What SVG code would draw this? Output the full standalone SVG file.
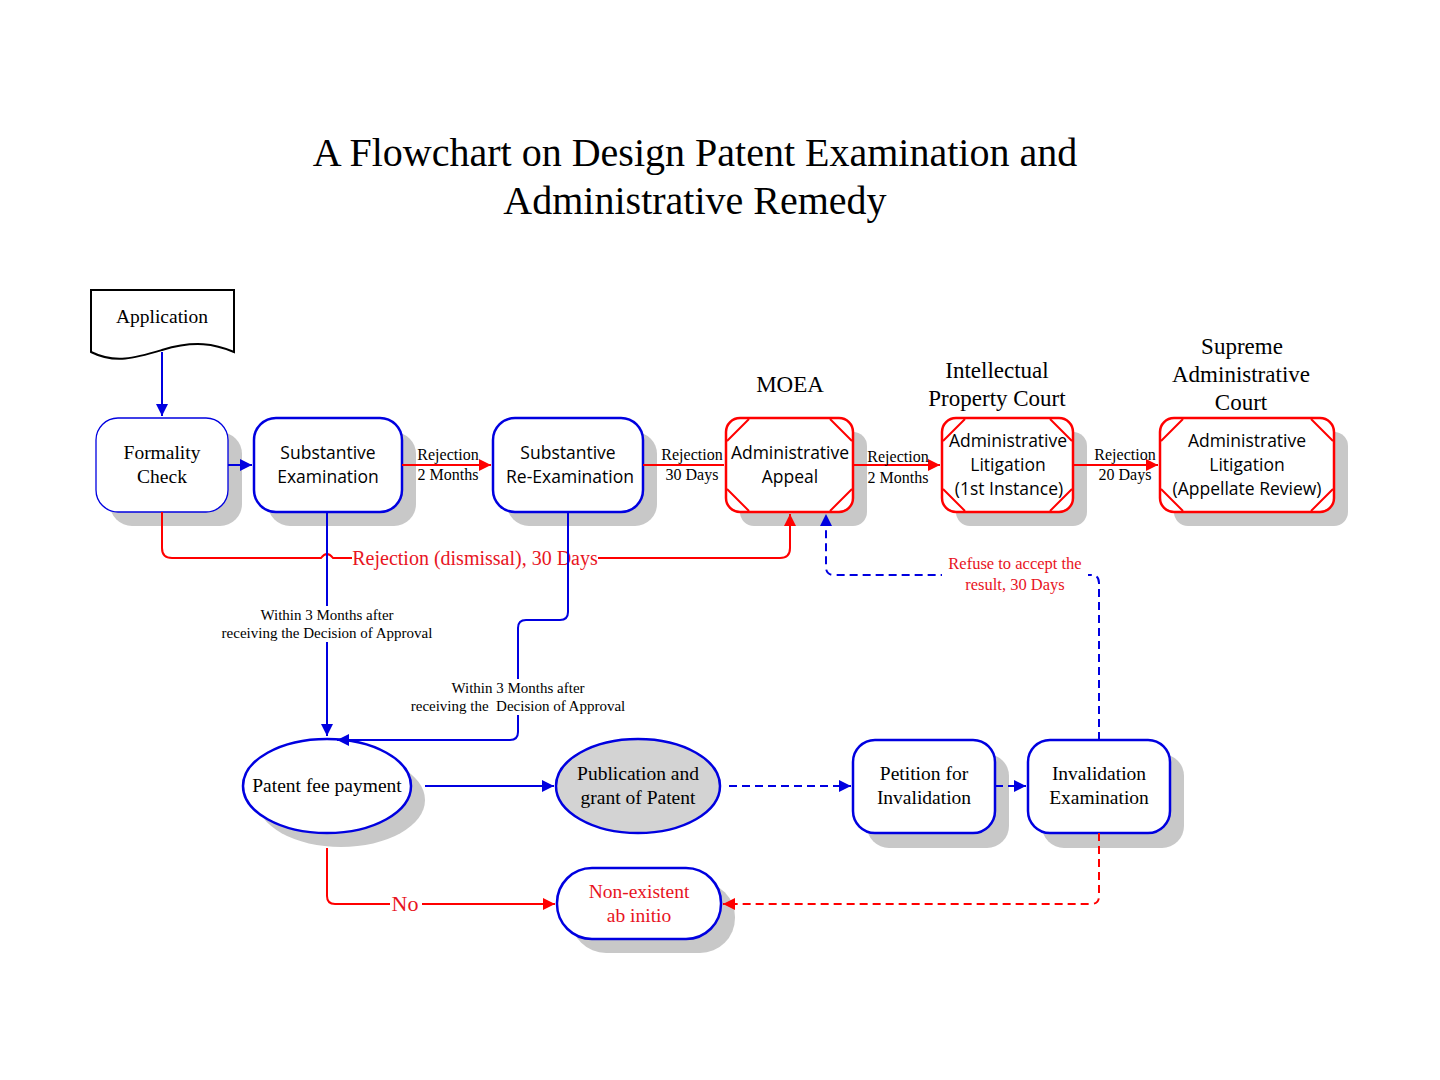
<svg xmlns="http://www.w3.org/2000/svg" width="1440" height="1080" viewBox="0 0 1440 1080">
<style>
.serif{font-family:"Liberation Serif","Times New Roman",serif;}
.sans{font-family:"Open Sans","Noto Sans",sans-serif;font-size:17.5px;fill:#000;}
.t19{font-size:19.5px;fill:#000;}
.t16{font-size:16px;fill:#000;}
.t15{font-size:15px;fill:#000;}
.red{fill:#e8141e;}
.shadow{fill:#c8c8c8;}
.bbox{fill:#fff;stroke:#0000e0;stroke-width:2.5;}
.rbox{fill:#fff;stroke:#ff0000;stroke-width:2.5;}
.bl{stroke:#0000e0;stroke-width:2;fill:none;}
.rl{stroke:#ff0000;stroke-width:2;fill:none;}
.dash{stroke-dasharray:8,5;}
</style>
<defs>
<marker id="ab" viewBox="0 0 10 10" refX="10" refY="5" markerWidth="6" markerHeight="6" orient="auto" markerUnits="strokeWidth"><path d="M0,0 L10,5 L0,10 z" fill="#0000e0"/></marker>
<marker id="ar" viewBox="0 0 10 10" refX="10" refY="5" markerWidth="6" markerHeight="6" orient="auto" markerUnits="strokeWidth"><path d="M0,0 L10,5 L0,10 z" fill="#ff0000"/></marker>
</defs>
<rect width="1440" height="1080" fill="#fff"/>
<g id="title" class="serif" font-size="40" text-anchor="middle" fill="#000">
<text x="695" y="166">A Flowchart on Design Patent Examination and</text>
<text x="695" y="214">Administrative Remedy</text>
</g>
<g id="headings" class="serif" font-size="23" text-anchor="middle" fill="#000">
<text x="790" y="392">MOEA</text>
<text x="997" y="378">Intellectual</text>
<text x="997" y="406">Property Court</text>
<text x="1242" y="354">Supreme</text>
<text x="1241" y="382">Administrative</text>
<text x="1241" y="410">Court</text>
</g>
<g id="application">
<path d="M91,290 H234 V352 C215,344 195,340 162,350 C135,358 115,364 91,352 Z" fill="#fff" stroke="#000" stroke-width="2"/>
<text class="serif t19" x="162" y="323" text-anchor="middle">Application</text>
</g>
<g id="formality-check">
<rect class="shadow" x="110" y="432" width="132" height="94" rx="22"/>
<rect x="96" y="418" width="132" height="94" rx="22" fill="#fff" stroke="#0000e0" stroke-width="1.3"/>
<text class="serif t19" x="162" y="459" text-anchor="middle">Formality</text>
<text class="serif t19" x="162" y="483" text-anchor="middle">Check</text>
</g>
<g id="substantive-examination">
<rect class="shadow" x="268" y="432" width="148" height="94" rx="22"/>
<rect class="bbox" x="254" y="418" width="148" height="94" rx="22"/>
<text class="sans" x="328" y="459" text-anchor="middle">Substantive</text>
<text class="sans" x="328" y="483" text-anchor="middle">Examination</text>
</g>
<g id="substantive-re-examination">
<rect class="shadow" x="507" y="432" width="150" height="94" rx="22"/>
<rect class="bbox" x="493" y="418" width="150" height="94" rx="22"/>
<text class="sans" x="568" y="459" text-anchor="middle">Substantive</text>
<text class="sans" x="570" y="483" text-anchor="middle">Re-Examination</text>
</g>
<g id="administrative-appeal">
<rect class="shadow" x="740" y="432" width="127" height="94" rx="14"/>
<rect class="rbox" x="726" y="418" width="127" height="94" rx="14"/>
<path class="rl" d="M727,441 L749,419 M830,419 L852,441 M727,489 L749,511 M830,511 L852,489"/>
<text class="sans" x="790" y="459" text-anchor="middle">Administrative</text>
<text class="sans" x="790" y="483" text-anchor="middle">Appeal</text>
</g>
<g id="administrative-litigation-1st">
<rect class="shadow" x="956" y="432" width="131" height="94" rx="14"/>
<rect class="rbox" x="942" y="418" width="131" height="94" rx="14"/>
<path class="rl" d="M943,441 L965,419 M1050,419 L1072,441 M943,489 L965,511 M1050,511 L1072,489"/>
<text class="sans" x="1008" y="447" text-anchor="middle">Administrative</text>
<text class="sans" x="1008" y="471" text-anchor="middle">Litigation</text>
<text class="sans" x="1009" y="495" text-anchor="middle">(1st Instance)</text>
</g>
<g id="administrative-litigation-appellate">
<rect class="shadow" x="1174" y="432" width="174" height="94" rx="14"/>
<rect class="rbox" x="1160" y="418" width="174" height="94" rx="14"/>
<path class="rl" d="M1161,441 L1183,419 M1311,419 L1333,441 M1161,489 L1183,511 M1311,511 L1333,489"/>
<text class="sans" x="1247" y="447" text-anchor="middle">Administrative</text>
<text class="sans" x="1247" y="471" text-anchor="middle">Litigation</text>
<text class="sans" x="1247" y="495" text-anchor="middle">(Appellate Review)</text>
</g>
<g id="patent-fee-payment">
<ellipse class="shadow" cx="341" cy="800" rx="84" ry="47"/>
<ellipse class="bbox" cx="327" cy="786" rx="84" ry="47"/>
<text class="serif t19" x="327" y="792" text-anchor="middle">Patent fee payment</text>
</g>
<g id="publication">
<ellipse cx="638" cy="786" rx="82" ry="47" fill="#d3d3d3" stroke="#0000e0" stroke-width="2.5"/>
<text class="serif t19" x="638" y="780" text-anchor="middle">Publication and</text>
<text class="serif t19" x="638" y="804" text-anchor="middle">grant of Patent</text>
</g>
<g id="petition-for-invalidation">
<rect class="shadow" x="867" y="754" width="142" height="94" rx="22"/>
<rect class="bbox" x="853" y="740" width="142" height="93" rx="22"/>
<text class="serif t19" x="924" y="780" text-anchor="middle">Petition for</text>
<text class="serif t19" x="924" y="804" text-anchor="middle">Invalidation</text>
</g>
<g id="invalidation-examination">
<rect class="shadow" x="1042" y="754" width="142" height="94" rx="22"/>
<rect class="bbox" x="1028" y="740" width="142" height="93" rx="22"/>
<text class="serif t19" x="1099" y="780" text-anchor="middle">Invalidation</text>
<text class="serif t19" x="1099" y="804" text-anchor="middle">Examination</text>
</g>
<g id="non-existent">
<rect class="shadow" x="571" y="882" width="164" height="71" rx="35"/>
<rect class="bbox" x="557" y="868" width="164" height="71" rx="35"/>
<text class="serif t19 red" x="639" y="898" text-anchor="middle">Non-existent</text>
<text class="serif t19 red" x="639" y="922" text-anchor="middle">ab initio</text>
</g>
<g id="connectors">
<path class="bl" d="M162,352 V416" marker-end="url(#ab)"/>
<path class="bl" d="M228,465 H252" marker-end="url(#ab)"/>
<path class="rl" d="M402,465 H491" marker-end="url(#ar)"/>
<path class="rl" d="M643,465 H724"/>
<path class="rl" d="M853,465 H940" marker-end="url(#ar)"/>
<path class="rl" d="M1073,465 H1158" marker-end="url(#ar)"/>
<path class="rl" d="M162,512 V548 Q162,558 172,558 H321 Q327,550 333,558 H780 Q790,558 790,548 V514" marker-end="url(#ar)"/>
<rect x="352" y="547" width="246" height="22" fill="#fff"/>
<text class="serif red" font-size="20" x="475" y="565" text-anchor="middle">Rejection (dismissal), 30 Days</text>
<path class="bl" d="M327,512 V736" marker-end="url(#ab)"/>
<path class="bl" d="M568,512 V612 Q568,620 560,620 H526 Q518,620 518,628 V732 Q518,740 510,740 H337" marker-end="url(#ab)"/>
<path class="bl" d="M425,786 H554" marker-end="url(#ab)"/>
<path class="bl dash" d="M729,786 H851" marker-end="url(#ab)"/>
<path class="bl dash" d="M995,786 H1026" marker-end="url(#ab)"/>
<path class="bl dash" d="M1099,740 V583 Q1099,575 1091,575 H834 Q826,575 826,567 V514" marker-end="url(#ab)"/>
<path class="rl dash" d="M1099,833 V896 Q1099,904 1091,904 H723" marker-end="url(#ar)"/>
<path class="rl" d="M327,848 V896 Q327,904 335,904 H555" marker-end="url(#ar)"/>
</g>
<g id="connector-labels" class="serif" text-anchor="middle">
<text class="t16" x="448" y="460">Rejection</text>
<text class="t16" x="448" y="480">2 Months</text>
<text class="t16" x="692" y="460">Rejection</text>
<text class="t16" x="692" y="480">30 Days</text>
<text class="t16" x="898" y="462">Rejection</text>
<text class="t16" x="898" y="483">2 Months</text>
<text class="t16" x="1125" y="460">Rejection</text>
<text class="t16" x="1125" y="480">20 Days</text>
<rect x="218" y="606" width="218" height="36" fill="#fff"/>
<text class="t15" x="327" y="620">Within 3 Months after</text>
<text class="t15" x="327" y="638">receiving the Decision of Approval</text>
<rect x="408" y="679" width="220" height="36" fill="#fff"/>
<text class="t15" x="518" y="693">Within 3 Months after</text>
<text class="t15" x="518" y="711" xml:space="preserve">receiving the  Decision of Approval</text>
<rect x="942" y="554" width="146" height="40" fill="#fff"/>
<text class="red" font-size="16.5" x="1015" y="569">Refuse to accept the</text>
<text class="red" font-size="16.5" x="1015" y="590">result, 30 Days</text>
<rect x="390" y="892" width="32" height="22" fill="#fff"/>
<text class="red" font-size="22" x="405" y="911">No</text>
</g>
</svg>
